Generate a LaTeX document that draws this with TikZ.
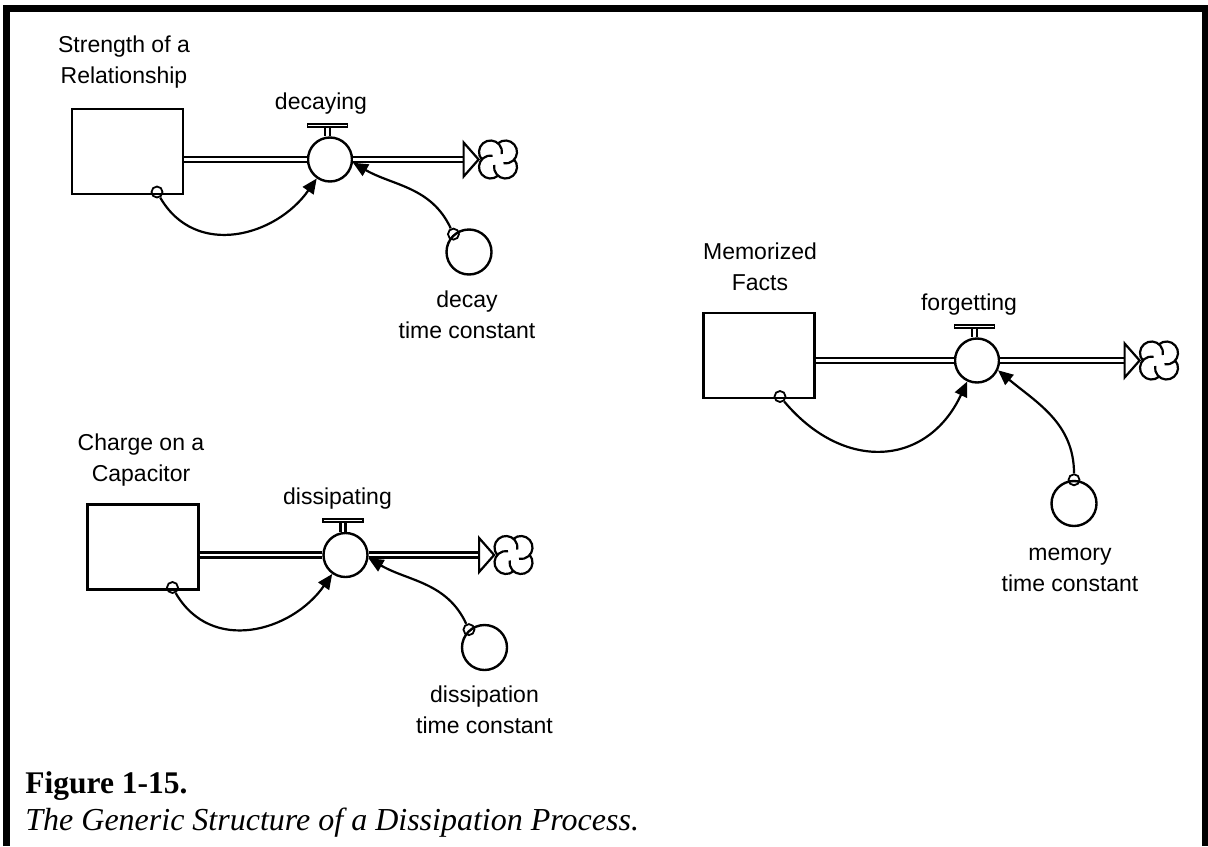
\documentclass[tikz,border=0pt]{standalone}
\usepackage{fontspec}
\setmainfont{Liberation Sans}
\newfontfamily\capfont{Liberation Serif}
\usetikzlibrary{positioning,arrows.meta}

\begin{document}
\begin{tikzpicture}[x=0.5pt, y=0.5pt, line join=miter,
stock/.style={rectangle, draw, line width=1.2pt, minimum width=55.5pt, minimum height=42.5pt},
valve/.style={circle, draw, line width=1.2pt, minimum size=22pt, inner sep=0pt},
aux/.style={circle, draw, line width=1.2pt, minimum size=22.5pt, inner sep=0pt},
dot/.style={circle, draw, line width=0.9pt, minimum size=5.5pt, inner sep=0pt},
tap/.style={rectangle, draw, line width=0.9pt, minimum width=20pt, minimum height=1.5pt, inner sep=0pt},
sink/.style={minimum size=19pt, inner sep=0pt},
pipe/.style={double, line width=1.2pt, double distance=1.2pt},
head/.style={draw, fill=white, line width=1.1pt},
info/.style={-{Triangle[length=7.5pt, width=6.5pt]}, line width=1.1pt},
lbl/.style={align=center, font=\fontsize{11.5}{15.5}\selectfont, inner sep=0pt, anchor=base},
captext/.style={anchor=base west, inner sep=0pt}]

\fill[white] (0,0) rectangle (1208,-846);
\useasboundingbox (0,0) rectangle (1208,-846);
\draw[line width=3.5pt] (6.5,-846) -- (6.5,-8.5) -- (1205,-8.5) -- (1205,-846);

% strength of a relationship
\node (s1) [stock] at (127.5,-151.5) {};
\node (v1) [valve] at (330,-159.5) {};
\node (k1) [sink] at (498,-159.5) {};
\node (c1) [aux] at (469,-252) {};
\node (o1) [dot] at (157,-192) {};
\node (p1) [dot] at (c1.131) {};
\node (t1) [tap, above=4.3pt of v1, xshift=-1.25pt] {};
\node (n1) [lbl] at ([xshift=-1.75pt, yshift=12pt]s1.north) {Strength of a\\Relationship};
\node (m1) [lbl] at ([xshift=-4.5pt, yshift=13.5pt]v1.north) {decaying};
\node (q1) [lbl] at ([xshift=-1pt, yshift=-31.3pt]c1.south) {decay\\time constant};
\draw[pipe] (s1.east |- v1) -- (v1.west);
\draw[pipe, shorten >=7.5pt] (v1.east) -- (k1.west);
\draw[pipe] (t1.south) -- (t1.south |- v1.north);
\draw[head] (k1.west) -- ++(-15,17) -- ++(0,-34) -- cycle;
\foreach \a in {45,135,225,315}
	\draw[line width=1.1pt] ([shift={(\a:10.6)}]k1.center) ++(\a+85.7:11.5) arc[start angle=\a+85.7, end angle=\a-145, radius=11.5];
\draw[info] (o1) to[out=-60, in=-125, looseness=1.15] (v1.235);
\draw[info] (p1) to[out=115, in=-30] (v1.-8);

% charge on a capacitor
\node (s2) [stock] at (143,-547) {};
\node (v2) [valve] at (345.5,-555) {};
\node (k2) [sink] at (513.5,-555) {};
\node (c2) [aux] at (484.5,-647.5) {};
\node (o2) [dot] at (172.5,-587.5) {};
\node (p2) [dot] at (c2.131) {};
\node (t2) [tap, above=4.3pt of v2, xshift=-1.25pt] {};
\node (n2) [lbl] at ([xshift=-1pt, yshift=11pt]s2.north) {Charge on a\\Capacitor};
\node (m2) [lbl] at ([xshift=-4pt, yshift=13.5pt]v2.north) {dissipating};
\node (q2) [lbl] at ([yshift=-31.3pt]c2.south) {dissipation\\time constant};
\draw[pipe] (s2.east |- v2) -- (v2.west);
\draw[pipe, shorten >=7.5pt] (v2.east) -- (k2.west);
\draw[pipe] (t2.south) -- (t2.south |- v2.north);
\draw[head] (k2.west) -- ++(-15,17) -- ++(0,-34) -- cycle;
\foreach \a in {45,135,225,315}
	\draw[line width=1.1pt] ([shift={(\a:10.6)}]k2.center) ++(\a+85.7:11.5) arc[start angle=\a+85.7, end angle=\a-145, radius=11.5];
\draw[info] (o2) to[out=-60, in=-125, looseness=1.15] (v2.235);
\draw[info] (p2) to[out=115, in=-30] (v2.-8);

% memorized facts
\node (s3) [stock] at (759,-355.5) {};
\node (v3) [valve] at (977,-360.5) {};
\node (k3) [sink] at (1159,-360.5) {};
\node (c3) [aux] at (1074,-503.5) {};
\node (o3) [dot] at (780,-396.5) {};
\node (p3) [dot] at (c3.north) {};
\node (t3) [tap, above=4.3pt of v3, xshift=-1.25pt] {};
\node (n3) [lbl] at ([xshift=0.5pt, yshift=10.5pt]s3.north) {Memorized\\Facts};
\node (m3) [lbl] at ([xshift=-4pt, yshift=13.5pt]v3.north) {forgetting};
\node (q3) [lbl] at ([xshift=-2pt, yshift=-32.3pt]c3.south) {memory\\time constant};
\draw[pipe] (s3.east |- v3) -- (v3.west);
\draw[pipe, shorten >=7.5pt] (v3.east) -- (k3.west);
\draw[pipe] (t3.south) -- (t3.south |- v3.north);
\draw[head] (k3.west) -- ++(-15,17) -- ++(0,-34) -- cycle;
\foreach \a in {45,135,225,315}
	\draw[line width=1.1pt] ([shift={(\a:10.6)}]k3.center) ++(\a+85.7:11.5) arc[start angle=\a+85.7, end angle=\a-145, radius=11.5];
\draw[info] (o3) to[out=-50, in=-115, looseness=1.3] (v3.245);
\draw[info] (p3) to[out=90, in=-40] (v3.-25);

% caption
\node (f1) [captext, font=\capfont\bfseries\fontsize{15.75}{18}\selectfont] at (25,-793) {Figure 1-15.};
\node (f2) [captext, font=\capfont\itshape\fontsize{16}{18}\selectfont] at (25,-830) {The Generic Structure of a Dissipation Process.};

\end{tikzpicture}
\end{document}
